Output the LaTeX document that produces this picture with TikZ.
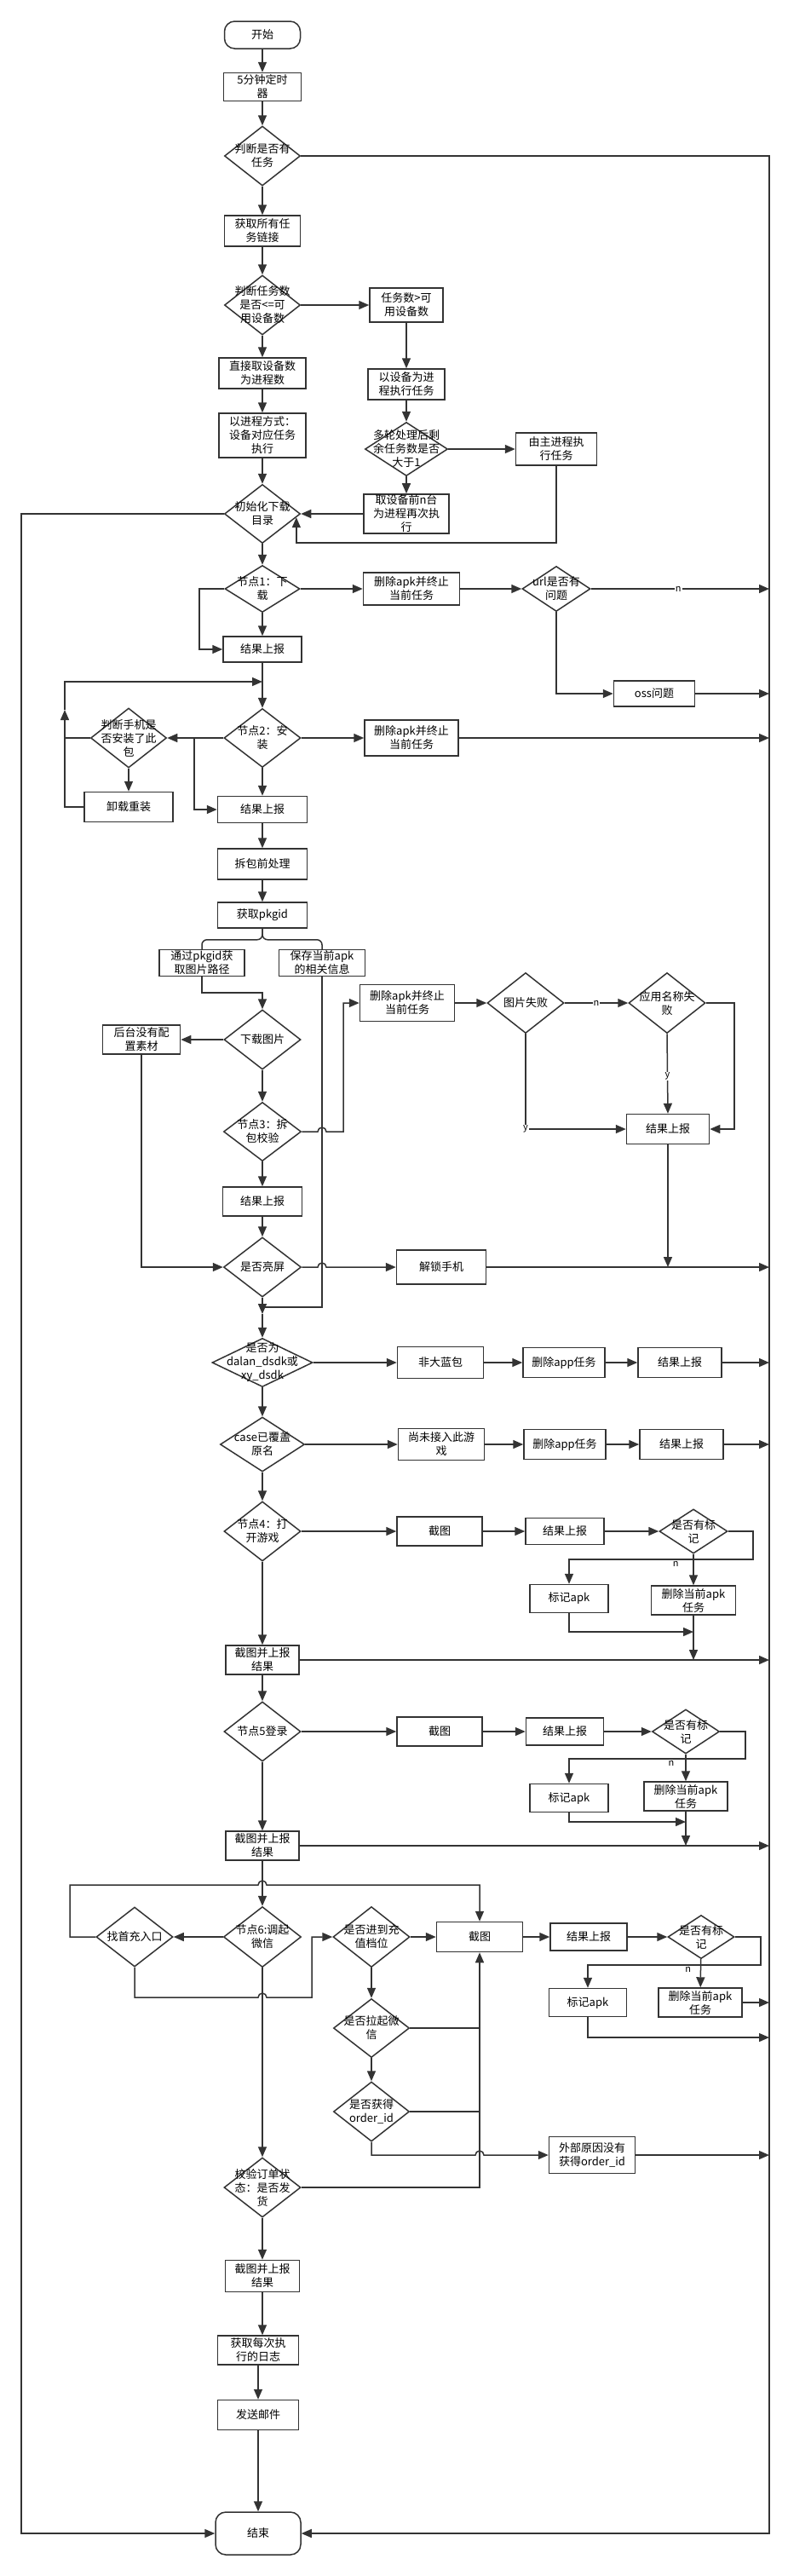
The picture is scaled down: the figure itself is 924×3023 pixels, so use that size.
\documentclass[tikz,border=0pt]{standalone}
\usepackage{fontspec}
\setmainfont{Noto Sans CJK SC}
\usetikzlibrary{shapes.geometric,arrows.meta,calc}
\definecolor{lc}{HTML}{333333}
\tikzset{
  txtf/.style={font=\fontsize{13}{16}\selectfont},
  box/.style={draw=lc, line width=1.5pt, fill=white, rectangle, align=center, inner sep=1pt, txtf},
  term/.style={box, rounded corners=12pt},
  dshape/.style={draw=lc, line width=1.5pt, fill=white, diamond, inner sep=0pt},
  dtext/.style={align=center, inner sep=0pt, txtf},
  ln/.style={draw=lc, line width=1.5pt},
  arr/.style={draw=lc, line width=1.5pt, -{Triangle[length=12pt,width=10pt]}},
  lbl/.style={font=\fontsize{11}{12}\selectfont, inner sep=1pt}
}
\newcommand\mydia[6]{\node[dshape,minimum width=#4pt,minimum height=#5pt] (#1) at (#2,#3) {};\node[dtext] (#1t) at (#1.center) {#6};}
\newcommand\mybox[6]{\node[box,minimum width=#4pt,minimum height=#5pt] (#1) at (#2,#3) {#6};}
\begin{document}
\begin{tikzpicture}[x=1pt,y=-1pt]
\useasboundingbox[fill=white] (0,0) rectangle (924,3023);
\coordinate (R) at (903,0);
\coordinate (L) at (25,0);
% ---------- nodes ----------
\node[term,minimum width=89pt,minimum height=32pt] (start) at (308,41) {开始};
\mybox{timer}{308}{102}{91}{33}{5分钟定时\\器}
\mydia{q1}{308}{183}{89}{70}{判断是否有\\任务}
\mybox{links}{308}{271}{89}{36}{获取所有任\\务链接}
\mydia{q2}{308}{358}{89}{70}{判断任务数\\是否<=可\\用设备数}
\mybox{gt}{477}{358}{86}{40}{任务数>可\\用设备数}
\mybox{direct}{308}{438}{102}{36}{直接取设备数\\为进程数}
\mybox{devproc}{477}{451}{90}{36}{以设备为进\\程执行任务}
\mybox{procmode}{308}{511}{102}{52}{以进程方式：\\设备对应任务\\执行}
\mydia{q3}{477}{527}{97}{63}{多轮处理后剩\\余任务数是否\\大于1}
\mybox{mainproc}{653}{527}{95}{38}{由主进程执\\行任务}
\mybox{firstn}{477}{603}{100}{39}{取设备前n台\\为进程再次执\\行}
\mydia{init}{308}{603}{89}{69}{初始化下载\\目录}
\mydia{n1}{308}{691}{88}{55}{节点1：下\\载}
\mybox{del1}{483}{691}{113}{38}{删除apk并终止\\当前任务}
\mydia{url}{653}{691}{80}{53}{url是否有\\问题}
\mybox{oss}{768}{814}{95}{30}{oss问题}
\mybox{rep1}{308}{762}{92}{30}{结果上报}
\mydia{n2}{308}{866}{90}{69}{节点2：安\\装}
\mydia{chk}{151}{866}{89}{70}{判断手机是\\否安装了此\\包}
\mybox{del2}{483}{866}{110}{42}{删除apk并终止\\当前任务}
\mybox{reinstall}{151}{947}{104}{35}{卸载重装}
\mybox{rep2}{308}{950}{105}{31}{结果上报}
\mybox{prep}{308}{1014}{105}{36}{拆包前处理}
\mybox{pkg}{308}{1074}{105}{30}{获取pkgid}
\mybox{img}{237}{1130}{100}{31}{通过pkgid获\\取图片路径}
\mybox{save}{378}{1130}{101}{31}{保存当前apk\\的相关信息}
\mydia{dl}{308}{1220}{90}{70}{下载图片}
\mybox{nomat}{166}{1220}{91}{34}{后台没有配\\置素材}
\mydia{n3}{308}{1328}{91}{69}{节点3：拆\\包校验}
\mybox{rep3}{308}{1410}{93}{34}{结果上报}
\mydia{bright}{308}{1487}{91}{70}{是否亮屏}
\mybox{del3}{478}{1177}{111}{43}{删除apk并终止\\当前任务}
\mydia{picfail}{617}{1177}{90}{71}{图片失败}
\mydia{appfail}{783}{1177}{90}{71}{应用名称失\\败}
\mybox{rep4}{784}{1325}{97}{35}{结果上报}
\mybox{unlock}{518}{1487}{105}{40}{解锁手机}
\mydia{dalan}{308}{1599}{118}{57}{是否为\\dalan\_dsdk或\\xy\_dsdk}
\mybox{nonblue}{517}{1599}{101}{37}{非大蓝包}
\mybox{delapp1}{662}{1599}{96}{35}{删除app任务}
\mybox{rep5}{798}{1599}{98}{35}{结果上报}
\mydia{caseq}{308}{1695}{99}{64}{case已覆盖\\原名}
\mybox{notyet}{518}{1695}{101}{37}{尚未接入此游\\戏}
\mybox{delapp2}{663}{1695}{96}{35}{删除app任务}
\mybox{rep6}{800}{1695}{98}{35}{结果上报}
\mydia{n4}{308}{1797}{90}{70}{节点4：打\\开游戏}
\mybox{shot1}{516}{1797}{100}{34}{截图}
\mybox{rep7}{663}{1797}{92}{31}{结果上报}
\mydia{mark1}{814}{1797}{80}{52}{是否有标\\记}
\mybox{markapk1}{668}{1876}{92}{33}{标记apk}
\mybox{delcur1}{814}{1878}{99}{34}{删除当前apk\\任务}
\mybox{shotrep1}{308}{1948}{86}{34}{截图并上报\\结果}
\mydia{n5}{308}{2032}{90}{70}{节点5登录}
\mybox{shot2}{516}{2032}{100}{34}{截图}
\mybox{rep8}{663}{2032}{91}{32}{结果上报}
\mydia{mark2}{805}{2032}{79}{52}{是否有标\\记}
\mybox{markapk2}{668}{2110}{92}{33}{标记apk}
\mybox{delcur2}{805}{2108}{98}{34}{删除当前apk\\任务}
\mybox{shotrep2}{308}{2166}{86}{34}{截图并上报\\结果}
\mydia{first}{158}{2273}{90}{70}{找首充入口}
\mydia{n6}{308}{2273}{91}{71}{节点6:调起\\微信}
\mydia{charge}{436}{2273}{90}{71}{是否进到充\\值档位}
\mybox{shot3}{563}{2273}{101}{35}{截图}
\mybox{rep9}{691}{2273}{90}{32}{结果上报}
\mydia{mark3}{823}{2273}{78}{51}{是否有标\\记}
\mybox{markapk3}{690}{2350}{91}{33}{标记apk}
\mybox{delcur3}{822}{2350}{98}{34}{删除当前apk\\任务}
\mydia{pullwx}{436}{2380}{89}{69}{是否拉起微\\信}
\mydia{orderq}{436}{2478}{89}{70}{是否获得\\order\_id}
\mybox{ext}{695}{2529}{101}{43}{外部原因没有\\获得order\_id}
\mydia{verify}{308}{2567}{90}{70}{校验订单状\\态：是否发\\货}
\mybox{shotrep3}{308}{2671}{87}{37}{截图并上报\\结果}
\mybox{log}{303}{2758}{95}{34}{获取每次执\\行的日志}
\mybox{mail}{303}{2834}{95}{35}{发送邮件}
\node[term,minimum width=100pt,minimum height=50pt] (end) at (303,2973) {结束};
% ---------- helper coordinates ----------
\coordinate (J1) at (0,637);
\coordinate (K1) at (76,800);
\coordinate (K2) at (76,833);
\coordinate (K3) at (228,866);
\coordinate (K4) at (234,691);
\coordinate (J2) at (0,1165);
\coordinate (J3) at (0,1534);
\coordinate (J4) at (308,1542);
\coordinate (K5) at (403,0);
\coordinate (K6) at (862,0);
\coordinate (J5) at (884,1830);
\coordinate (J6) at (0,1915);
\coordinate (J7) at (875,2064);
\coordinate (J8) at (0,2138);
\coordinate (J9) at (82,2212);
\coordinate (J10) at (366,2344);
\coordinate (J11) at (893,2306);
\coordinate (J12) at (0,2391);
% ---------- connectors ----------
\draw[arr] (start) -- (timer);
\draw[arr] (timer) -- (q1);
\draw[arr] (q1) -- (links);
\draw[arr] (q1.east) -- (q1.east -| R) -- (R |- end.east) -- (end.east);
\draw[arr] (links) -- (q2);
\draw[arr] (q2.east) -- (gt.west);
\draw[arr] (q2) -- (direct);
\draw[arr] (direct) -- (procmode);
\draw[arr] (gt) -- (devproc);
\draw[arr] (devproc) -- (q3);
\draw[arr] (q3.east) -- (mainproc.west);
\draw[arr] (q3) -- (firstn);
\draw[arr] (procmode) -- (init);
\draw[arr] (firstn.west) -- (init.east);
\draw[arr] (mainproc.south) |- (init.-6 |- J1) -- (init.-6);
\draw[arr] (init.west) -- (init.west -| L) -- (L |- end.west) -- (end.west);
\draw[arr] (init) -- (n1);
\draw[arr] (n1.east) -- (del1.west);
\draw[arr] (del1.east) -- (url.west);
\draw[arr] (url.east) -- node[lbl,fill=white,pos=0.49] (ln1) {n} (url.east -| R);
\draw[arr] (url.south) |- (oss.west);
\draw[arr] (oss.east) -- (oss.east -| R);
\draw[arr] (n1.west) -- (K4) |- (rep1.west);
\draw[arr] (n1) -- (rep1);
\draw[arr] (rep1) -- (n2);
\draw[arr] (n2.east) -- (del2.west);
\draw[arr] (del2.east) -- (del2.east -| R);
\draw[arr] (n2.west) -- (chk.east);
\draw[arr] (K3) |- (rep2.west);
\draw[arr] (chk) -- (reinstall);
\draw[arr] (reinstall.west) -| (K2);
\draw[arr] (K2) -- (K1) -- (K1 -| rep1.south);
\draw[ln] (chk.west) -- (chk.west -| K1);
\draw[arr] (n2) -- (rep2);
\draw[arr] (rep2) -- (prep);
\draw[arr] (prep) -- (pkg);
\draw[ln, rounded corners=6pt] (pkg.south) -- ++(0,13) -| (img.north);
\draw[ln, rounded corners=6pt] (pkg.south) -- ++(0,13) -| (save.north);
\draw[arr] (img.south) -- (img.south |- J2) -| (dl.north);
\draw[arr] (dl.west) -- (nomat.east);
\draw[arr] (nomat.south) |- (bright.west);
\draw[arr] (dl) -- (n3);
\draw[arr] (n3) -- (rep3);
\draw[arr] (rep3) -- (bright);
\draw[arr] (n3.east) -- ($(save.south |- n3.east)+(-5,0)$) arc[start angle=180,end angle=360,radius=5] -- (n3.east -| K5) -- (K5 |- del3.west) -- (del3.west);
\draw[arr] (bright.east) -- ($(save.south |- bright.east)+(-5,0)$) arc[start angle=180,end angle=360,radius=5] -- (unlock.west);
\draw[arr] (unlock.east) -- (unlock.east -| R);
\draw[ln] (save.south) -- (save.south |- J3) -- (bright.south |- J3);
\draw[arr] (bright.south) -- (J4);
\draw[arr] (J4) -- (dalan.north);
\draw[arr] (del3.east) -- (picfail.west);
\draw[arr] (picfail.east) -- node[lbl,fill=white,pos=0.5] (ln2) {n} (appfail.west);
\draw[arr] (appfail.east) -- (appfail.east -| K6) -- (K6 |- rep4.east) -- (rep4.east);
\draw[arr] (appfail.south) -- node[lbl,fill=white,pos=0.53] (ly1) {y} (rep4.north);
\draw[arr] (picfail.south) |- node[lbl,fill=white,pos=0.5] (ly2) {y} (rep4.west);
\draw[arr] (rep4.south) -- (rep4.south |- unlock.east);
\draw[arr] (dalan.east) -- (nonblue.west);
\draw[arr] (nonblue) -- (delapp1);
\draw[arr] (delapp1) -- (rep5);
\draw[arr] (rep5.east) -- (rep5.east -| R);
\draw[arr] (dalan) -- (caseq);
\draw[arr] (caseq.east) -- (notyet.west);
\draw[arr] (notyet) -- (delapp2);
\draw[arr] (delapp2) -- (rep6);
\draw[arr] (rep6.east) -- (rep6.east -| R);
\draw[arr] (caseq) -- (n4);
\draw[arr] (n4.east) -- (shot1.west);
\draw[arr] (shot1) -- (rep7);
\draw[arr] (rep7.east) -- (mark1.west);
\draw[arr] (mark1.east) -| (J5) -| node[lbl,pos=0.21,yshift=-5pt] (ln3) {n} (markapk1.north);
\draw[arr] (mark1) -- (delcur1);
\draw[arr] (markapk1.south) |- (delcur1.south |- J6);
\draw[arr] (delcur1.south) -- (delcur1.south |- shotrep1.east);
\draw[arr] (n4) -- (shotrep1);
\draw[arr] (shotrep1.east) -- (shotrep1.east -| R);
\draw[arr] (shotrep1) -- (n5);
\draw[arr] (n5.east) -- (shot2.west);
\draw[arr] (shot2) -- (rep8);
\draw[arr] (rep8.east) -- (mark2.west);
\draw[arr] (mark2.east) -| (J7) -| node[lbl,pos=0.21,yshift=-5pt] (ln4) {n} (markapk2.north);
\draw[arr] (mark2) -- (delcur2);
\draw[arr] (markapk2.south) |- (delcur2.south |- J8);
\draw[arr] (delcur2.south) -- (delcur2.south |- shotrep2.east);
\draw[arr] (n5) -- (shotrep2);
\draw[arr] (shotrep2.east) -- (shotrep2.east -| R);
\draw[arr] (shotrep2) -- (n6);
\draw[arr] (n6.west) -- (first.east);
\draw[arr] (first.west) -| (J9) -- ($(n6.north |- J9)+(-5,0)$) arc[start angle=180,end angle=360,radius=5] -- (shot3.north |- J9) -- (shot3.north);
\draw[arr] (first.south) |- ($(n6.south |- J10)+(-5,0)$) arc[start angle=180,end angle=360,radius=5] -- (J10) |- (charge.west);
\draw[arr] (charge.east) -- (shot3.west);
\draw[arr] (shot3) -- (rep9);
\draw[arr] (rep9.east) -- (mark3.west);
\draw[arr] (mark3.east) -| (J11) -| node[lbl,pos=0.21,yshift=-5pt] (ln5) {n} (markapk3.north);
\draw[arr] (mark3) -- (delcur3);
\draw[arr] (delcur3.east) -- (delcur3.east -| R);
\draw[arr] (markapk3.south) |- (R |- J12);
\draw[arr] (charge) -- (pullwx);
\draw[ln] (pullwx.east) -- (pullwx.east -| shot3.south);
\draw[arr] (pullwx) -- (orderq);
\draw[ln] (orderq.east) -- (orderq.east -| shot3.south);
\draw[arr] (verify.east) -| (shot3.south);
\draw[arr] (orderq.south) |- ($(shot3.south |- ext.west)+(-5,0)$) arc[start angle=180,end angle=360,radius=5] -- (ext.west);
\draw[arr] (ext.east) -- (ext.east -| R);
\draw[arr] (n6) -- (verify);
\draw[arr] (verify) -- (shotrep3);
\draw[arr] (shotrep3.south) -- (shotrep3.south |- log.north);
\draw[arr] (log) -- (mail);
\draw[arr] (mail) -- (end);
\end{tikzpicture}
\end{document}
